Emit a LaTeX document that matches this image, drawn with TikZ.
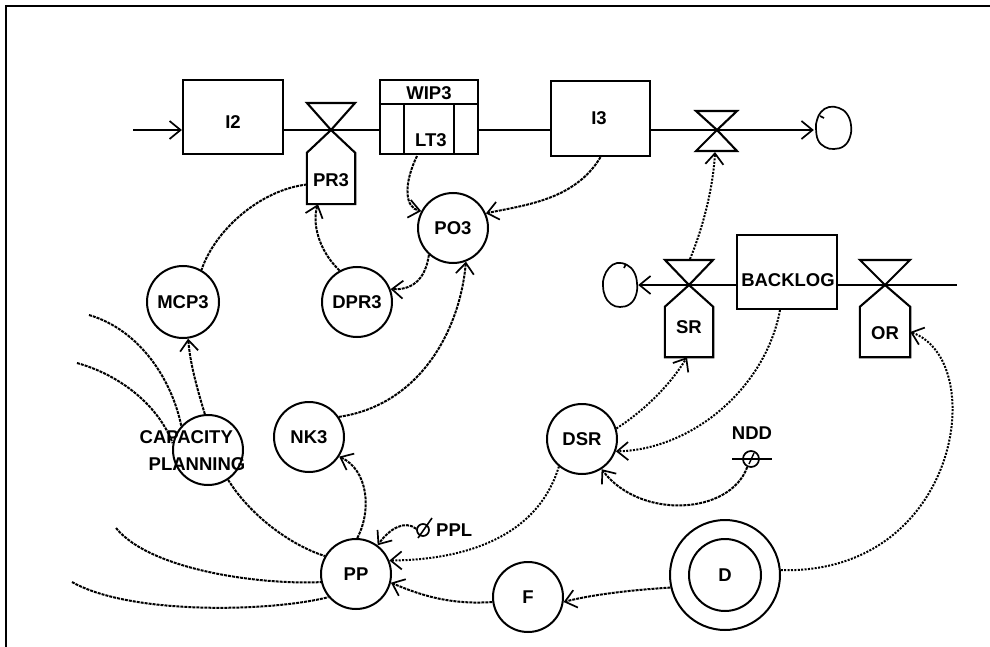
\documentclass[tikz,border=0pt]{standalone}
\usepackage{fontspec}
\setmainfont{Liberation Sans}
\usetikzlibrary{arrows.meta,calc}
\newcommand\lab{\fontsize{18.5}{23}\bfseries\selectfont}
\begin{document}
\begin{tikzpicture}[x=1pt,y=-1pt,
  >={Straight Barb[length=11pt,width=18pt,line width=1.7pt]},
  box/.style={draw, line width=2.2pt, rectangle, inner sep=0pt},
  aux/.style={draw, circle, line width=2pt, minimum size=70pt, inner sep=0pt, font=\lab},
  pipe/.style={line width=2.1pt},
  link/.style={line width=2pt, dash pattern=on 3pt off 1pt},
  dlink/.style={line width=2pt, dash pattern=on 2pt off 1.4pt},
  txt/.style={font=\lab, inner sep=0pt},
  ratebox/.style={rectangle, inner sep=0pt},
  cloudline/.style={line width=1.7pt},
  const/.style={draw, circle, line width=1.7pt, inner sep=0pt},
]
\useasboundingbox (0,0) rectangle (990,647);
% frame
\draw[line width=2.6pt] (6,647) -- (6,6) -- (990,6);

% ---------- stocks ----------
\node[box, minimum width=100pt, minimum height=74pt] (I2) at (233,117) {};
\node[txt] (I2lab) at (233,122) {I2};
\node[box, minimum width=98pt, minimum height=74pt] (WIP3) at (429,117) {};
\draw[pipe] ([yshift=-25pt]WIP3.north west) -- ([yshift=-25pt]WIP3.north east);
\draw[pipe] ([xshift=25pt,yshift=-25pt]WIP3.north west) -- ([xshift=25pt]WIP3.south west);
\draw[pipe] ([xshift=-25pt,yshift=-25pt]WIP3.north east) -- ([xshift=-25pt]WIP3.south east);
\node[txt] (WIP3lab) at (429,93) {WIP3};
\node[txt] (LT3) at (431,140) {LT3};
\node[box, minimum width=99pt, minimum height=75pt] (I3) at (600.5,118.5) {};
\node[txt] (I3lab) at (599,118) {I3};
\node[box, minimum width=100pt, minimum height=74pt] (BACKLOG) at (787,272) {};
\node[txt] (BLlab) at (788,280) {BACKLOG};

% ---------- valves / rates ----------
\coordinate (vPR3) at (331,130);
\node[ratebox, minimum width=48pt, minimum height=51pt] (PR3) at (331,178.5) {};
\draw[pipe] (vPR3) -- ++(-24,-27) -- ++(48,0) -- cycle;
\draw[pipe] (vPR3) -- (PR3.north west) -- (PR3.south west) -- (PR3.south east) -- (PR3.north east) -- cycle;
\node[txt] (PR3lab) at (331,180) {PR3};

\coordinate (vSR) at (689,285);
\node[ratebox, minimum width=48pt, minimum height=50pt] (SR) at (689,332) {};
\draw[pipe] (vSR) -- ++(-24,-25) -- ++(48,0) -- cycle;
\draw[pipe] (vSR) -- (SR.north west) -- (SR.south west) -- (SR.south east) -- (SR.north east) -- cycle;
\node[txt] (SRlab) at (689,327) {SR};

\coordinate (vOR) at (885,285);
\node[ratebox, minimum width=50pt, minimum height=50pt] (OR) at (885,332) {};
\draw[pipe] (vOR) -- ++(-25,-25) -- ++(50,0) -- cycle;
\draw[pipe] (vOR) -- (OR.north west) -- (OR.south west) -- (OR.south east) -- (OR.north east) -- cycle;
\node[txt] (ORlab) at (885,333) {OR};

\coordinate (v3) at (717,130);
\draw[pipe] (v3) -- ++(-21,-19) -- ++(41,0) -- cycle;
\draw[pipe] (v3) -- ++(-21,21) -- ++(41,0) -- cycle;

% ---------- clouds ----------
\node[circle, minimum size=38pt, inner sep=0pt] (cloud1) at (833,128) {};
\draw[cloudline, shift={(cloud1.center)}] plot[smooth cycle, tension=0.7] coordinates
  {(-16,-8) (-12,-16) (-4,-21) (6,-20) (14,-14) (18,-3) (17,9) (11,18) (1,21) (-8,19) (-15,12) (-17,0)};
\draw[cloudline] ([xshift=-13pt,yshift=12pt]cloud1.center) -- ([xshift=-9pt,yshift=10pt]cloud1.center);
\node[circle, minimum size=36pt, inner sep=0pt] (cloud2) at (620,285) {};
\draw[cloudline, shift={(cloud2.center)}] plot[smooth cycle, tension=0.7] coordinates
  {(-16,-8) (-11,-17) (-3,-22) (7,-20) (14,-13) (17,-2) (16,10) (10,19) (0,22) (-9,19) (-15,11) (-17,1)};
\draw[cloudline] ([xshift=4pt,yshift=17pt]cloud2.center) -- ([xshift=6pt,yshift=21pt]cloud2.center);

% ---------- pipes ----------
\coordinate (src) at (133,130);
\draw[pipe,->] (src) -- (src -| I2.west);
\draw[pipe] (vPR3 -| I2.east) -- (vPR3 -| WIP3.west);
\draw[pipe] (vPR3 -| WIP3.east) -- (vPR3 -| I3.west);
\draw[pipe,->] (v3 -| I3.east) -- (v3 -| cloud1.west);
\draw[pipe,->] (vSR -| BACKLOG.west) -- (vSR -| cloud2.east);
\coordinate (sink) at (957,285);
\draw[pipe] (vOR -| BACKLOG.east) -- (sink);

% ---------- auxiliaries ----------
\node[aux] (PO3) at (453,228) {PO3};
\node[aux] (DPR3) at (357,302) {DPR3};
\node[aux, minimum size=72pt] (MCP3) at (183,302) {MCP3};
\node[aux] (NK3) at (309,437) {NK3};
\node[aux] (CP) at (208,450) {};
\node[txt, align=left, font=\fontsize{18.5}{27}\bfseries\selectfont] (CPlab) at (192.5,451) {CAPACITY\\\hspace*{9pt}PLANNING};
\node[aux] (DSR) at (582,439) {DSR};
\node[aux] (PP) at (356,574) {PP};
\node[aux] (F) at (528,597) {F};
\node[aux, minimum size=72pt] (D) at (725,575) {D};
\node[aux, minimum size=110pt] (Dout) at (725,575) {};

% ---------- constants ----------
\node[const, minimum size=16pt] (NDD) at (751,459) {};
\draw[pipe] ([xshift=-19pt]NDD.center) -- ([xshift=21pt]NDD.center);
\draw[line width=1.4pt] ([xshift=-2pt,yshift=-5pt]NDD.center) -- ([xshift=3pt,yshift=6pt]NDD.center);
\node[txt] (NDDlab) at (752,433) {NDD};
\node[const, minimum size=12pt] (PPL) at (423,530) {};
\draw[line width=1.6pt] ([xshift=-5pt,yshift=-8pt]PPL.center) -- ([xshift=9pt,yshift=12pt]PPL.center);
\node[txt, anchor=west] (PPLlab) at (436,530) {PPL};

% ---------- open ends ----------
\coordinate (A1) at (89,315);
\coordinate (B1) at (77,363);
\coordinate (C1) at (116,528);
\coordinate (D1) at (72,582);
\coordinate (LTout) at (417,156);
\coordinate (vSRtop) at (690,259);
\coordinate (v3bot) at (715,152);

% ---------- connectors ----------
\draw[link] ([yshift=-6pt]PR3.west) .. controls (260,190) and (215,230) .. (MCP3.60);
\draw[link,->] (CP.95) .. controls (196,385) and (190,362) .. (MCP3.-82);
\draw[link] (A1) .. controls (140,330) and (172,380) .. (CP.138);
\draw[link] (B1) .. controls (120,375) and (158,405) .. (CP.169);
\draw[link] (CP.-56) .. controls (250,515) and (290,545) .. (PP.150);
\draw[link] (C1) .. controls (150,570) and (260,585) .. (PP.193);
\draw[link] (D1) .. controls (130,615) and (270,612) .. (PP.220);
\draw[link,->] (PPL.170) .. controls (405,520) and (390,528) .. (PP.53);
\draw[link,->] (PP.88) .. controls (372,510) and (368,470) .. (NK3.-33);
\draw[link,->] (NK3.34) .. controls (420,405) and (460,330) .. (PO3.-69);
\draw[link,->] (LTout) .. controls (403,185) and (405,208) .. (PO3.152);
\draw[link,->] (I3.south) .. controls (575,200) and (525,205) .. (PO3.24);
\draw[link,->] (PO3.228) .. controls (425,282) and (410,290) .. (DPR3.21);
\draw[link,->] (DPR3.119) .. controls (318,250) and (312,222) .. ([xshift=-13pt]PR3.south);
\draw[dlink,->] (DSR.17) .. controls (645,410) and (670,385) .. ([xshift=-2pt]SR.south);
\draw[dlink,->] (vSRtop) .. controls (702,230) and (713,190) .. (v3bot);
\draw[dlink,->] ([xshift=-7pt]BACKLOG.south) .. controls (765,390) and (690,450) .. (DSR.-20);
\draw[link,->] (NDD.-115) .. controls (730,515) and (640,520) .. (DSR.-57);
\draw[dlink,->] (DSR.230) .. controls (535,545) and (450,560) .. (PP.22);
\draw[link,->] (F.188) .. controls (450,605) and (420,595) .. (PP.-14);
\draw[link,->] (Dout.193) .. controls (630,590) and (590,595) .. (F.-8);
\draw[dlink,->] (Dout.5) .. controls (960,575) and (990,360) .. (OR.east);
\end{tikzpicture}
\end{document}
